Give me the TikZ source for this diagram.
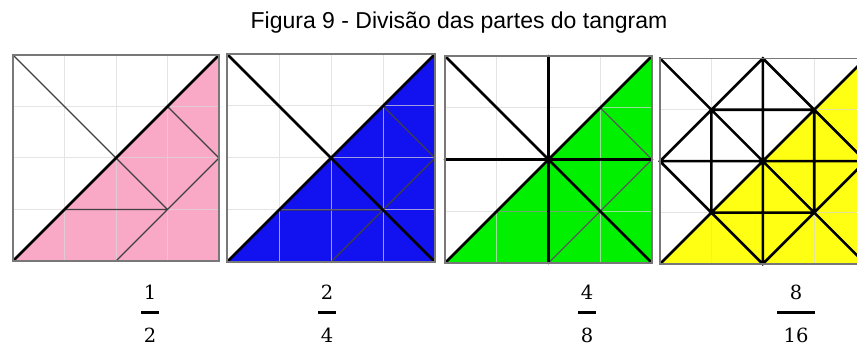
\documentclass[tikz,border=0pt]{standalone}
\usepackage{fontspec}
\newfontfamily\titlefont{Liberation Sans}
\newfontfamily\numfont{DejaVu Serif}
\definecolor{tpink}{RGB}{249,168,197}
\definecolor{tblue}{RGB}{18,18,240}
\definecolor{tgreen}{RGB}{0,240,0}
\definecolor{tyellow}{RGB}{255,255,20}
\definecolor{frame}{RGB}{120,120,120}
\tikzset{
  gridln/.style={draw=gray!30, opacity=0.7, line width=1pt},
  border/.style={draw=frame, line width=1.6pt},
  thickln/.style={draw=black, line width=2.6pt, line cap=round},
  thinln/.style={draw=black!75, line width=1.4pt, line cap=round},
  faintln/.style={draw=black, opacity=0.25, line width=1pt},
  numtxt/.style={font=\numfont\fontsize{19.5}{24}\selectfont, anchor=base, inner sep=0pt},
  fbar/.style={draw=black, line width=3pt},
}
\begin{document}
\begin{tikzpicture}[x=1pt,y=-1pt]
\useasboundingbox (0,0) rectangle (857,347);
\fill[white] (0,0) rectangle (857,347);
\node[anchor=base, inner sep=0pt, font=\titlefont\fontsize{23}{28}\selectfont] (title) at (459,29) {Figura 9 - Divisão das partes do tangram};

% Panel 1
\begin{scope}[shift={(13,261)}, x=51.5pt, y=51.5pt]
  \fill[tpink] (0,0) -- (4,0) -- (4,4) -- cycle;
  \draw[gridln] (1,0) -- (1,4) (2,0) -- (2,4) (3,0) -- (3,4) (0,1) -- (4,1) (0,2) -- (4,2) (0,3) -- (4,3);
  \draw[thinln] (0,4) -- (2,2) -- (3,1) (3,3) -- (4,2) -- (2,0) (1,1) -- (3,1);
  \draw[thickln] (0,0) -- (4,4);
  \draw[border] (0,0) rectangle (4,4);
\end{scope}

% Panel 2
\begin{scope}[shift={(227,262)}, x=52pt, y=52pt]
  \fill[tblue] (0,0) -- (4,0) -- (4,4) -- cycle;
  \draw[gridln] (1,0) -- (1,4) (2,0) -- (2,4) (3,0) -- (3,4) (0,1) -- (4,1) (0,2) -- (4,2) (0,3) -- (4,3);
  \draw[thinln] (3,3) -- (4,2) -- (2,0) (1,1) -- (3,1);
  \draw[thickln] (0,0) -- (4,4) (0,4) -- (4,0);
  \draw[border] (0,0) rectangle (4,4);
\end{scope}

% Panel 3
\begin{scope}[shift={(445,263)}, x=51.75pt, y=51.75pt]
  \fill[tgreen] (0,0) -- (4,0) -- (4,4) -- cycle;
  \draw[gridln] (1,0) -- (1,4) (2,0) -- (2,4) (3,0) -- (3,4) (0,1) -- (4,1) (0,2) -- (4,2) (0,3) -- (4,3);
  \draw[faintln] (1,1) -- (3,1);
  \draw[thinln, draw=black!65] (3,3) -- (4,2) -- (2,0);
  \draw[thickln] (0,0) -- (4,4) (0,4) -- (4,0) (2,0) -- (2,4) (0,2) -- (4,2);
  \draw[border] (0,0) rectangle (4,4);
\end{scope}

% Panel 4
\begin{scope}[shift={(660,264)}, x=51.4pt, y=51.4pt]
  \fill[tyellow] (0,0) -- (4,0) -- (4,4) -- cycle;
  \draw[gridln] (1,0) -- (1,4) (2,0) -- (2,4) (3,0) -- (3,4) (0,1) -- (4,1) (0,2) -- (4,2) (0,3) -- (4,3);
  \draw[thickln] (0,0) -- (4,4) (0,4) -- (4,0) (2,0) -- (2,4) (0,2) -- (4,2)
    (2,4) -- (4,2) -- (2,0) -- (0,2) -- cycle
    (1,1) -- (1,3) -- (3,3) -- (3,1) -- cycle;
  \draw[border] (0,0) rectangle (4,4);
\end{scope}

% Fractions
\node[numtxt] (n1) at (150,300) {1};
\node[numtxt] (d1) at (150,342) {2};
\draw[fbar] (141,313) -- (159,313);
\node[numtxt] (n2) at (327,300) {2};
\node[numtxt] (d2) at (327,342) {4};
\draw[fbar] (318,313) -- (336,313);
\node[numtxt] (n3) at (587,300) {4};
\node[numtxt] (d3) at (587,342) {8};
\draw[fbar] (578,313) -- (596,313);
\node[numtxt] (n4) at (796,300) {8};
\node[numtxt] (d4) at (796,342) {16};
\draw[fbar] (777,313) -- (815,313);
\end{tikzpicture}
\end{document}
